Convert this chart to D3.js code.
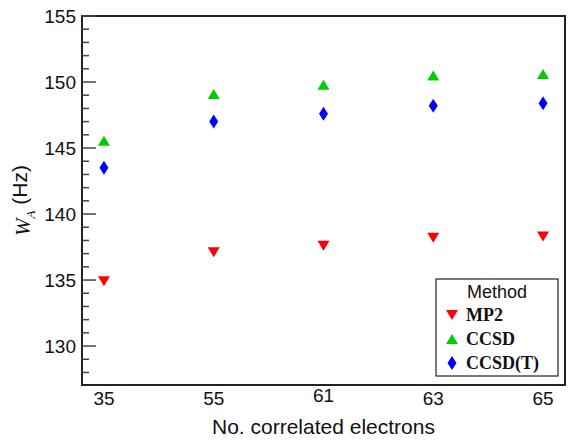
<!DOCTYPE html>
<html>
<head>
<meta charset="utf-8">
<script src="https://cdn.jsdelivr.net/npm/d3@7"></script>
<style>
  body { margin: 0; background: #fff; }
  svg { display: block; }
</style>
</head>
<body>
<svg id="chart" width="570" height="440"></svg>
<script>
// data
var electrons = ["35", "55", "61", "63", "65"];
var mp2 = [134.9, 137.1, 137.6, 138.2, 138.3];
var ccsd = [145.55, 149.1, 149.8, 150.5, 150.6];
var ccsdT = [143.5, 147.0, 147.6, 148.2, 148.4];
var yMajorTicks = [130, 135, 140, 145, 150, 155];
var methods = ["MP2", "CCSD", "CCSD(T)"];

var svg = d3.select("#chart");
var margin = {left: 82, right: 5, top: 16, bottom: 55};
var width = 570, height = 440;

var x = d3.scalePoint()
    .domain(electrons)
    .range([margin.left, width - margin.right])
    .padding(0.2);

var y = d3.scaleLinear()
    .domain([127.05, 155])
    .range([height - margin.bottom, margin.top]);

// frame
svg.append("rect")
    .attr("x", margin.left)
    .attr("y", margin.top)
    .attr("width", width - margin.right - margin.left)
    .attr("height", height - margin.bottom - margin.top)
    .style("fill", "none")
    .style("stroke", "#222")
    .style("stroke-width", 2);

// y axis: major + minor ticks pointing inward
var yMinor = d3.range(128, 156, 1).filter(function(v){ return v % 5 !== 0; });
svg.append("g").selectAll("line.minor")
    .data(yMinor)
    .enter().append("line")
    .attr("x1", margin.left).attr("x2", margin.left + 7)
    .attr("y1", function(d){ return y(d); })
    .attr("y2", function(d){ return y(d); })
    .style("stroke", "#444").style("stroke-width", 1.5);

svg.append("g").selectAll("line.major")
    .data(yMajorTicks)
    .enter().append("line")
    .attr("x1", margin.left).attr("x2", margin.left + 14)
    .attr("y1", function(d){ return y(d); })
    .attr("y2", function(d){ return y(d); })
    .style("stroke", "#444").style("stroke-width", 1.5);

svg.append("g").selectAll("text")
    .data(yMajorTicks)
    .enter().append("text")
    .attr("x", margin.left - 6)
    .attr("y", function(d){ return y(d); })
    .attr("dy", "0.36em")
    .style("text-anchor", "end")
    .style("font-family", "'Liberation Sans', Arial, sans-serif")
    .style("font-size", "19px")
    .style("fill", "#111")
    .text(function(d){ return d; });

// x tick labels (no tick marks)
svg.append("g").selectAll("text")
    .data(electrons)
    .enter().append("text")
    .attr("x", function(d){ return x(d); })
    .attr("y", function(d){ return d === "61" ? 402 : 405; })
    .style("text-anchor", "middle")
    .style("font-family", "'Liberation Sans', Arial, sans-serif")
    .style("font-size", "19px")
    .style("fill", "#111")
    .text(function(d){ return d; });

// axis titles
svg.append("text")
    .attr("x", (margin.left + width - margin.right) / 2)
    .attr("y", 434)
    .style("text-anchor", "middle")
    .style("font-family", "'Liberation Sans', Arial, sans-serif")
    .style("font-size", "21px")
    .style("fill", "#111")
    .text("No. correlated electrons");

var yTitle = svg.append("text")
    .attr("transform", "translate(30," + ((margin.top + height - margin.bottom) / 2) + ") rotate(-90)")
    .style("text-anchor", "middle")
    .style("font-size", "21px")
    .style("fill", "#111");
yTitle.append("tspan")
    .style("font-family", "'Liberation Serif', 'Times New Roman', serif")
    .style("font-style", "italic")
    .text("W");
yTitle.append("tspan")
    .attr("dy", "0.35em")
    .style("font-family", "'Liberation Serif', 'Times New Roman', serif")
    .style("font-style", "italic")
    .style("font-size", "13px")
    .text("A");
yTitle.append("tspan")
    .attr("dy", "-0.35em")
    .style("font-family", "'Liberation Sans', Arial, sans-serif")
    .text(" (Hz)");

// marker shapes
var triDown = "M-6,-5 L6,-5 L0,5 Z";
var triUp = "M-6,5 L6,5 L0,-5 Z";
var diamond = "M0,-7 L4.5,0 L0,7 L-4.5,0 Z";

var series = [
    {name: "MP2", values: mp2, color: "#ff0000", shape: triDown},
    {name: "CCSD", values: ccsd, color: "#00cc00", shape: triUp},
    {name: "CCSD(T)", values: ccsdT, color: "#0000ff", shape: diamond}
];

series.forEach(function(s){
    svg.append("g").selectAll("path")
        .data(s.values)
        .enter().append("path")
        .attr("d", s.shape)
        .attr("transform", function(d, i){
            return "translate(" + x(electrons[i]) + "," + y(d) + ")";
        })
        .style("fill", s.color);
});

// legend
var legend = svg.append("g").attr("transform", "translate(436,279)");
legend.append("rect")
    .attr("width", 122).attr("height", 97)
    .style("fill", "#fff")
    .style("stroke", "#222")
    .style("stroke-width", 1.2);
legend.append("text")
    .attr("x", 61).attr("y", 19)
    .style("text-anchor", "middle")
    .style("font-family", "'Liberation Sans', Arial, sans-serif")
    .style("font-size", "18px")
    .style("fill", "#111")
    .text("Method");

var items = legend.selectAll("g.item")
    .data(series)
    .enter().append("g")
    .attr("class", "item")
    .attr("transform", function(d, i){ return "translate(16," + (36 + i * 24) + ")"; });
items.append("path")
    .attr("d", function(d){ return d.shape; })
    .style("fill", function(d){ return d.color; });
items.append("text")
    .attr("x", 14).attr("dy", "0.35em")
    .style("font-family", "'Liberation Serif', 'Times New Roman', serif")
    .style("font-weight", "bold")
    .style("font-size", "18px")
    .style("fill", "#111")
    .text(function(d){ return d.name; });
</script>
</body>
</html>
